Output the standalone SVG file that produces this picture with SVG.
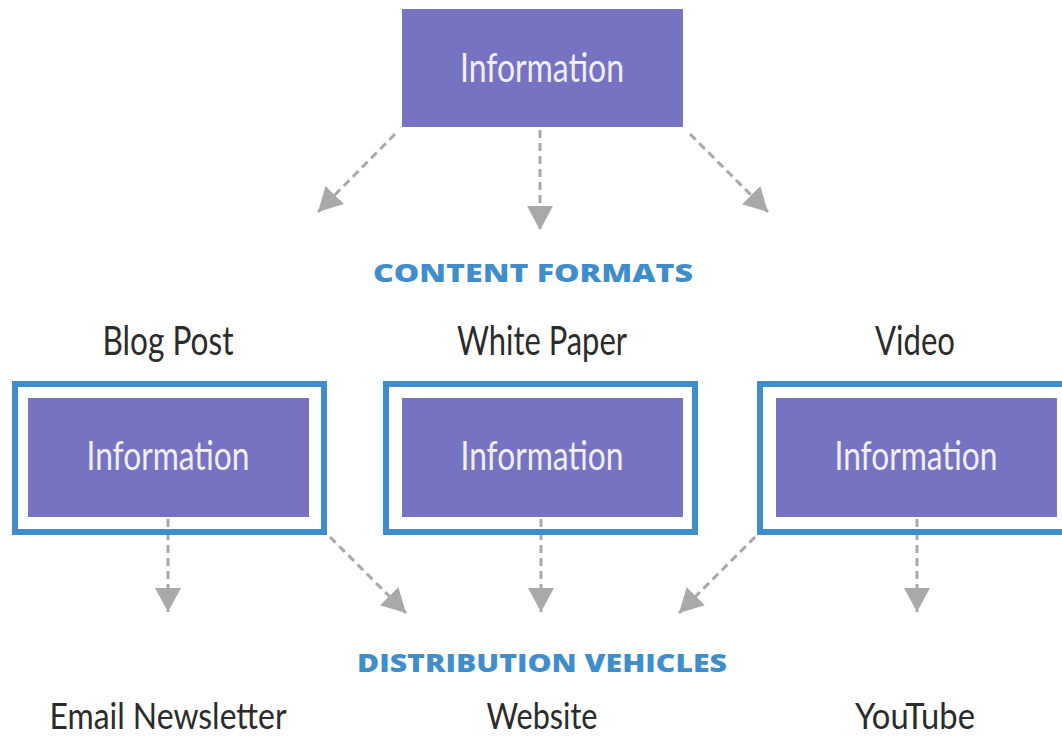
<svg xmlns="http://www.w3.org/2000/svg" width="1062" height="738" viewBox="0 0 1062 738">
  <style>
    .box { fill: #7674C2; }
    .frame { fill: none; stroke: #3F8ECB; stroke-width: 6; }
    .boxtext { font-family: Lato, "Open Sans", sans-serif; font-size: 40px; fill: #F1EEFB; text-anchor: middle; }
    .label { font-family: Lato, "Open Sans", sans-serif; font-size: 40px; fill: #2B2B2B; text-anchor: middle; }
    .label.low { font-size: 37px; }
    .heading { font-family: "Open Sans", Lato, sans-serif; font-weight: 800; font-size: 25px; fill: #3F8ECB; text-anchor: middle; }
    .link { fill: none; stroke: #A9A9A9; stroke-width: 3; stroke-dasharray: 8 5; marker-end: url(#arrow); }
  </style>
  <defs>
    <marker id="arrow" markerUnits="userSpaceOnUse" markerWidth="26" markerHeight="28" refX="24" refY="13" orient="auto">
      <path d="M0,0 L24,13 L0,26 Z" fill="#A9A9A9"/>
    </marker>
  </defs>
  <rect width="1062" height="738" fill="#FFFFFF"/>

  <!-- connectors -->
  <g id="connectors">
    <line class="link" x1="395" y1="134" x2="318" y2="212"/>
    <line class="link" x1="540" y1="130" x2="540" y2="230"/>
    <line class="link" x1="690" y1="134" x2="768" y2="212"/>
    <line class="link" x1="168" y1="519" x2="168" y2="612"/>
    <line class="link" x1="330" y1="537" x2="406" y2="613"/>
    <line class="link" x1="541" y1="519" x2="541" y2="612"/>
    <line class="link" x1="755" y1="537" x2="679" y2="613"/>
    <line class="link" x1="917" y1="519" x2="917" y2="612"/>
  </g>

  <!-- source node -->
  <g id="source">
    <rect class="box" x="402" y="9" width="281" height="118"/>
    <text class="boxtext" x="542" y="82" textLength="164" lengthAdjust="spacingAndGlyphs">Information</text>
  </g>

  <text class="heading" x="533" y="282" textLength="320" lengthAdjust="spacingAndGlyphs">CONTENT FORMATS</text>

  <!-- content formats -->
  <g id="blog-post">
    <text class="label" x="168" y="355" textLength="131" lengthAdjust="spacingAndGlyphs">Blog Post</text>
    <rect class="frame" x="15" y="384" width="309" height="148"/>
    <rect class="box" x="28" y="398" width="281" height="119"/>
    <text class="boxtext" x="168" y="470" textLength="163" lengthAdjust="spacingAndGlyphs">Information</text>
  </g>
  <g id="white-paper">
    <text class="label" x="542" y="355" textLength="170" lengthAdjust="spacingAndGlyphs">White Paper</text>
    <rect class="frame" x="386" y="384" width="309" height="148"/>
    <rect class="box" x="402" y="398" width="281" height="119"/>
    <text class="boxtext" x="542" y="470" textLength="163" lengthAdjust="spacingAndGlyphs">Information</text>
  </g>
  <g id="video">
    <text class="label" x="915" y="355" textLength="80" lengthAdjust="spacingAndGlyphs">Video</text>
    <rect class="frame" x="760" y="384" width="309" height="148"/>
    <rect class="box" x="776" y="398" width="281" height="119"/>
    <text class="boxtext" x="916" y="470" textLength="163" lengthAdjust="spacingAndGlyphs">Information</text>
  </g>

  <text class="heading" x="542" y="672" textLength="370" lengthAdjust="spacingAndGlyphs">DISTRIBUTION VEHICLES</text>

  <!-- distribution vehicles -->
  <g id="email-newsletter">
    <text class="label low" x="168" y="729" textLength="237" lengthAdjust="spacingAndGlyphs">Email Newsletter</text>
  </g>
  <g id="website">
    <text class="label low" x="542" y="729" textLength="111" lengthAdjust="spacingAndGlyphs">Website</text>
  </g>
  <g id="youtube">
    <text class="label low" x="915" y="729" textLength="120" lengthAdjust="spacingAndGlyphs">YouTube</text>
  </g>
</svg>
